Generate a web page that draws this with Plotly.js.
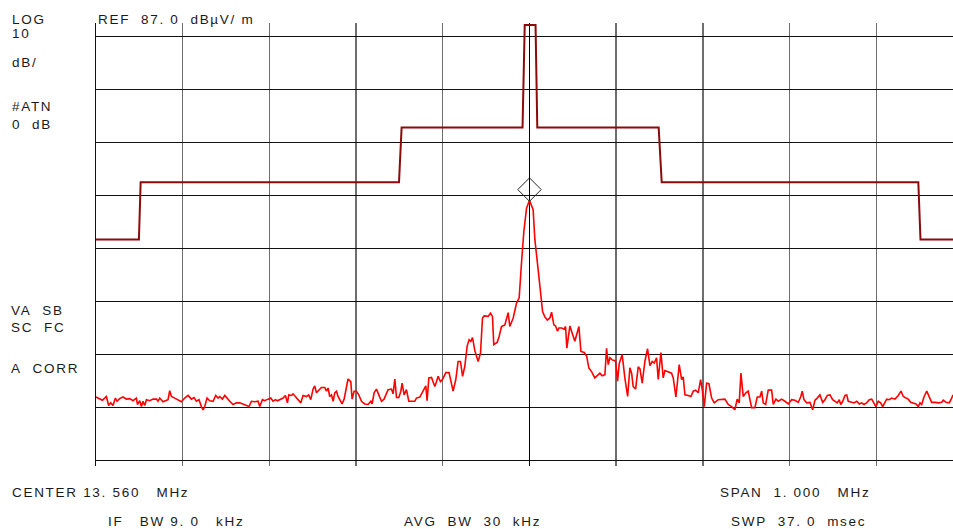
<!DOCTYPE html>
<html>
<head>
<meta charset="utf-8">
<script src="https://cdn.plot.ly/plotly-3.0.1.min.js"></script>
<style>
  html, body { margin: 0; padding: 0; background: #fff; overflow: hidden; }
  #chart { width: 953px; height: 529px; }
  .annotation-text { letter-spacing: 1.7px; }
</style>
</head>
<body>
<div id="chart"></div>
<script>
// Frequency offset from 13.560 MHz centre, kHz
const traceFreqKHz = [
 -500,-495.7,-492.6,-490.0,-488.0,-485.4,-483.0,-480.4,-477.6,-475.8,-472.7,-468.8,-464.9,-461.1,-457.3,-453.4,-452.2,-449.6,-447.6,-445.8,
 -443.8,-441.8,-438.0,-434.2,-430.3,-428.5,-426.5,-422.7,-418.8,-416.9,-415.0,-413.0,-409.2,-405.4,-401.5,-397.7,-393.8,-389.9,-386.9,-384.2,
 -381.2,-378.4,-376.5,-374.6,-371.9,-368.8,-365.0,-361.9,-359.2,-357.3,-354.2,-351.5,-348.8,-345.7,-341.9,-338.0,-334.2,-330.4,-326.5,-323.5,
 -320.7,-316.9,-313.1,-311.1,-308.0,-305.4,-301.5,-298.4,-295.8,-293.0,-290.7,-288.0,-284.2,-281.5,-279.2,-277.6,-274.5,-272.7,-269.9,-266.9,
 -263.8,-261.2,-257.2,-254.6,-252.3,-249.6,-247.7,-245.7,-243.9,-240.0,-236.1,-234.2,-232.3,-230.4,-228.4,-226.5,-224.6,-222.6,-220.8,-218.8,
 -216.2,-213.8,-211.1,-209.3,-206.1,-204.6,-202.3,-199.6,-196.9,-193.8,-190.0,-186.2,-183.0,-181.5,-179.2,-176.5,-173.8,-170.7,-167.7,-165.0,
 -163.1,-159.2,-157.3,-155.3,-153.4,-150.7,-148.4,-146.9,-144.6,-141.9,-139.2,-136.1,-132.3,-130.4,-126.5,-123.9,-121.5,-119.6,-118.1,-116.1,
 -113.0,-111.2,-109.2,-107.3,-105.4,-102.7,-100.4,-96.5,-92.8,-88.1,-85.0,-82.3,-79.6,-77.2,-74.6,-71.9,-69.6,-67.7,-65.7,-63.0,
 -59.2,-56.5,-54.2,-52.3,-47.7,-45.0,-42.7,-41.2,-37.3,-35.0,-32.3,-28.4,-24.6,-22.7,-18.8,-14.9,-11.9,-9.2,-6.5,-3.4,
 0.0,4.2,6.2,10.0,12.8,15.1,17.7,20.6,23.5,25.5,28.1,30.1,32.4,33.9,37.0,40.0,41.6,43.1,46.6,49.2,
 52.3,57.0,59.3,63.1,65.9,68.5,71.6,75.4,78.6,81.2,83.9,87.0,88.9,90.8,92.7,95.4,99.3,101.6,103.5,106.9,
 110.0,113.2,115.8,117.8,119.6,122.4,125.4,127.4,130.0,133.1,136.2,138.9,141.6,143.9,146.6,148.5,151.6,154.2,156.2,160.0,
 163.9,165.8,168.9,172.7,175.5,177.3,179.3,183.1,186.2,188.9,191.6,194.6,197.4,199.3,201.6,204.3,207.0,210.1,213.1,217.7,
 221.6,225.4,229.2,233.2,236.9,239.6,241.9,243.9,246.5,249.6,252.3,254.3,256.2,260.0,262.7,265.8,267.8,269.6,272.4,275.4,
 279.3,281.2,284.3,287.0,290.9,294.6,298.5,302.4,306.2,310.0,312.8,314.6,316.6,319.7,323.5,326.6,329.3,331.9,335.0,338.2,
 340.8,343.5,346.6,349.7,352.4,355.0,357.3,359.0,361.3,363.9,365.9,367.7,371.7,374.3,377.4,380.4,383.2,385.8,388.9,391.9,
 394.7,396.6,399.6,402.3,405.1,407.4,410.0,412.0,415.0,417.8,421.6,425.4,428.5,431.2,434.3,436.9,439.7,442.7,445.8,448.5,
 450.4,452.4,455.0,458.2,461.2,463.9,467.7,471.6,475.5,477.3,480.4,484.2,487.0,488.5
];
// Measured level, dBµV/m
const traceLevel = [
 19.0,18.6,18.4,18.8,19.1,17.4,17.9,17.4,18.8,18.2,18.7,19.0,18.6,18.7,18.3,18.8,17.6,18.3,17.2,18.2,
 17.4,18.5,18.3,18.6,18.6,18.2,18.8,18.1,18.3,18.5,20.2,19.1,18.8,18.4,18.1,18.8,19.3,18.6,18.9,18.2,
 18.5,17.2,16.6,17.2,18.8,18.3,18.2,19.3,18.8,19.1,18.6,19.3,18.7,18.2,17.6,17.9,17.9,17.7,17.4,17.2,
 18.2,18.1,18.2,17.2,18.5,18.3,18.6,18.8,18.2,18.5,18.3,18.5,18.8,19.3,17.9,19.4,19.3,19.6,19.1,18.6,
 17.9,19.3,19.1,19.4,18.5,20.5,21.1,19.8,20.1,20.8,20.8,20.1,20.7,19.1,19.4,18.2,19.8,20.1,19.1,18.5,
 17.7,18.6,21.0,22.4,21.9,18.6,20.1,20.1,19.4,18.2,17.7,17.6,18.2,17.7,19.8,20.5,19.4,18.2,18.6,19.8,
 20.4,20.5,19.6,22.4,18.9,18.9,20.1,21.6,19.4,20.4,18.2,18.2,18.2,18.8,19.0,19.8,20.4,21.1,18.3,22.6,
 22.7,21.9,21.0,21.9,22.9,21.9,22.3,23.6,23.6,20.1,22.3,25.7,25.7,22.9,24.8,28.6,29.8,29.5,30.2,27.7,
 25.7,27.3,33.9,34.3,34.2,34.8,34.2,28.9,29.3,30.4,32.3,32.6,34.9,32.3,33.9,36.7,37.7,44.3,50.2,54.6,
 56.1,54.3,48.7,43.0,39.2,35.1,34.1,33.5,33.9,35.0,32.6,32.4,31.4,32.0,32.0,31.8,32.3,28.2,32.4,31.1,
 29.5,32.3,27.6,27.4,26.7,24.5,23.8,22.6,23.0,23.5,23.0,23.2,28.2,25.1,26.4,26.0,25.8,22.0,25.3,27.0,
 22.6,19.1,24.5,23.5,21.0,20.5,24.7,24.3,21.6,25.7,28.1,24.9,25.7,25.4,26.4,22.3,27.4,22.6,24.0,23.8,
 23.5,22.6,19.0,25.1,22.3,22.8,19.4,19.3,19.1,20.1,20.3,19.8,22.3,20.4,17.2,21.6,21.5,18.8,17.9,18.5,
 18.6,18.6,17.6,17.2,16.6,18.6,17.9,23.5,19.1,19.8,20.1,18.2,17.0,17.0,19.0,19.0,20.1,17.9,17.6,20.3,
 20.3,17.6,18.6,18.2,18.6,18.2,17.7,18.5,18.4,18.0,19.0,20.1,18.5,17.9,18.0,16.6,18.4,18.8,19.4,18.0,
 18.5,19.3,19.4,18.5,18.2,17.9,18.5,17.6,18.2,19.3,19.4,18.2,18.0,17.9,18.2,17.7,17.9,17.6,17.9,18.5,
 18.6,18.0,17.2,18.2,17.9,17.2,18.0,18.6,18.5,18.8,18.6,19.3,20.1,19.1,18.8,18.6,18.0,17.9,17.7,17.2,
 17.9,17.6,19.0,20.1,18.8,18.0,18.0,17.9,18.0,18.4,18.0,17.9,18.8,19.4
];
// Limit line (dBµV/m) break points
const limitFreqKHz = [-500,-450.5,-448.5,-150.5,-147.5,-8,-5.5,7,9,149,152.5,448.5,451,488.5];
const limitLevel   = [48.7,48.7,59.5,59.5,69.8,69.8,89.1,89.1,69.8,69.8,59.5,59.5,48.7,48.7];
// Marker
const markerFreqKHz = [0];
const markerLevel = [58.1];

const leftLabels = ["LOG", "10", "dB/", "#ATN", "0\u00a0\u00a0dB", "VA\u00a0\u00a0SB", "SC\u00a0\u00a0FC", "A\u00a0\u00a0CORR"];
const refLabel = "REF\u00a0\u00a087.\u00a00\u00a0\u00a0dBµV/\u00a0m";
const bottomLabels = ["CENTER\u00a013.\u00a0560\u00a0\u00a0\u00a0MHz", "SPAN\u00a0\u00a01.\u00a0000\u00a0\u00a0\u00a0MHz",
                      "IF\u00a0\u00a0\u00a0BW\u00a09.\u00a00\u00a0\u00a0\u00a0kHz", "AVG\u00a0\u00a0BW\u00a0\u00a030\u00a0\u00a0kHz", "SWP\u00a0\u00a037.\u00a00\u00a0\u00a0msec"];

// layout geometry
const W = 953, H = 529, ML = 96, MR = 0, MT = 23, MB = 63;
const PW = W - ML - MR, PH = H - MT - MB;
const px = x => (x - ML) / PW;
const py = y => (H - MB - y) / PH;

const font = {family: "Liberation Sans, Arial, sans-serif", size: 13.5, color: "#1a1a1a"};
function lab(text, x, y) {
  return {text: text, xref: "paper", yref: "paper", x: px(x), y: py(y), xanchor: "left", yanchor: "middle",
          showarrow: false, font: font};
}
const annotations = [
  lab(leftLabels[0], 10, 19.5),
  lab(leftLabels[1], 10, 33),
  lab(leftLabels[2], 10, 63),
  lab(leftLabels[3], 10, 106),
  lab(leftLabels[4], 10, 124),
  lab(leftLabels[5], 9, 310),
  lab(leftLabels[6], 9, 327),
  lab(leftLabels[7], 9, 368),
  lab(refLabel, 96, 19.5),
  lab(bottomLabels[0], 10, 492),
  lab(bottomLabels[1], 718, 492),
  lab(bottomLabels[2], 106, 521.5),
  lab(bottomLabels[3], 402, 521.5),
  lab(bottomLabels[4], 729, 521.5)
];

const data = [
  {x: limitFreqKHz, y: limitLevel, type: "scatter", mode: "lines",
   line: {color: "#8b0a0a", width: 2}, hoverinfo: "skip"},
  {x: traceFreqKHz, y: traceLevel, type: "scatter", mode: "lines",
   line: {color: "#ff0000", width: 1.6}, hoverinfo: "skip"},
  {x: markerFreqKHz, y: markerLevel, type: "scatter", mode: "markers",
   marker: {symbol: "diamond-open", size: 18, color: "#222", line: {width: 1, color: "#222"}}, hoverinfo: "skip"}
];

const layout = {
  width: W, height: H,
  margin: {l: ML, r: MR, t: MT, b: MB, pad: 0},
  paper_bgcolor: "#fff", plot_bgcolor: "#fff",
  showlegend: false,
  xaxis: {range: [-500, 488.5], tick0: -500, dtick: 100, showgrid: true, gridcolor: "#6e6e6e", gridwidth: 1.4,
          zeroline: true, zerolinecolor: "#000", zerolinewidth: 1, showticklabels: false, ticks: "", showline: false,
          fixedrange: true},
  yaxis: {range: [6, 89.5], tick0: 7, dtick: 10, showgrid: true, gridcolor: "#111", gridwidth: 1,
          zeroline: false, showticklabels: false, ticks: "", showline: true, linecolor: "#111", linewidth: 1,
          fixedrange: true},
  annotations: annotations,
  font: font
};

Plotly.newPlot("chart", data, layout, {displayModeBar: false, staticPlot: true});
</script>
</body>
</html>
